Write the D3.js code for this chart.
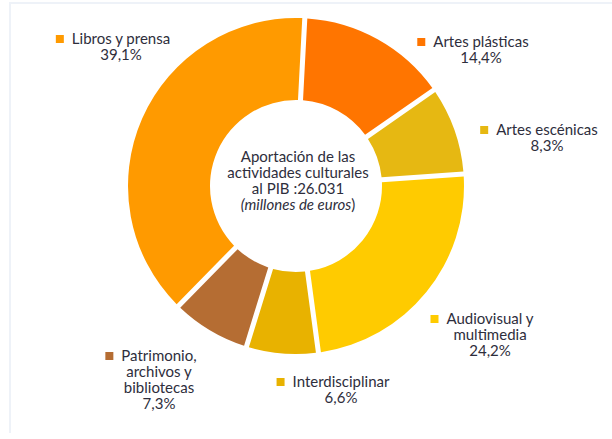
<!DOCTYPE html>
<html>
<head>
  <meta charset="UTF-8">
  <style>
    body { margin: 0; background: #fff; }
    svg { display: block; }
    text { font-family: Lato, "Noto Sans", sans-serif; font-size: 15px; fill: #2e2e3c; }
  </style>
</head>
<body>
  <svg id="chart" width="612" height="439"></svg>
  <script src="https://d3js.org/d3.v7.min.js"></script>
  <script>
    // data, clockwise from the top
    var categories = ["Artes plásticas", "Artes escénicas", "Audiovisual y multimedia",
                      "Interdisciplinar", "Patrimonio, archivos y bibliotecas", "Libros y prensa"];
    var shares = [14.4, 8.3, 24.2, 6.6, 7.3, 39.1];
    var labelLines = [["Artes plásticas"], ["Artes escénicas"], ["Audiovisual y", "multimedia"],
                      ["Interdisciplinar"], ["Patrimonio,", "archivos y", "bibliotecas"], ["Libros y prensa"]];
    var centerLines = ["Aportación de las", "actividades culturales", "al PIB :26.031"];
    var unitLine = "millones de euros";

    var colors = ["#ff7500", "#e6b812", "#ffcb00", "#e8b200", "#b56d33", "#ff9a00"];

    // label anchors (centre x, first baseline)
    var labelPos = [[481, 47], [547, 135], [490, 324], [341, 387], [159, 361], [121, 44]];

    var es = d3.formatLocale({decimal: ",", thousands: ".", grouping: [3], currency: ["", "€"]});
    var pct = function(v) { return es.format(".1f")(v) + "%"; };

    var svg = d3.select("#chart");

    // thin frame
    svg.append("line").attr("x1", 9).attr("y1", 3).attr("x2", 612).attr("y2", 3)
      .attr("stroke", "#eef2f8").attr("stroke-width", 2);
    svg.append("line").attr("x1", 10).attr("y1", 3).attr("x2", 10).attr("y2", 433)
      .attr("stroke", "#eef2f8").attr("stroke-width", 2);

    var cx = 296, cy = 186, R = 168, r = 86;

    var pie = d3.pie().sort(null)
      .startAngle(3 * Math.PI / 180)
      .endAngle(3 * Math.PI / 180 + 2 * Math.PI)
      .padAngle(0.03);

    var arc = d3.arc().innerRadius(r).outerRadius(R).padRadius(R);

    var g = svg.append("g").attr("transform", "translate(" + cx + "," + cy + ")");

    g.selectAll("path")
      .data(pie(shares))
      .enter().append("path")
      .attr("d", arc)
      .attr("fill", function(d, i) { return colors[i]; });

    // centre text
    var ct = svg.append("g");
    centerLines.forEach(function(s, i) {
      ct.append("text").attr("x", 298).attr("y", 162 + i * 16)
        .attr("text-anchor", "middle").text(s);
    });
    var u = ct.append("text").attr("x", 298).attr("y", 210).attr("text-anchor", "middle");
    u.append("tspan").attr("font-style", "italic").text("(" + unitLine);
    u.append("tspan").text(")");

    // labels
    var lab = svg.selectAll("g.lab")
      .data(categories)
      .enter().append("g").attr("class", "lab");

    lab.each(function(c, i) {
      var gg = d3.select(this);
      var p = labelPos[i];
      var lines = labelLines[i].concat([pct(shares[i])]);
      var first;
      lines.forEach(function(s, k) {
        var t = gg.append("text").attr("x", p[0]).attr("y", p[1] + k * 16)
          .attr("text-anchor", "middle").text(s);
        if (k === 0) first = t;
      });
      var w = first.node().getComputedTextLength();
      gg.append("rect")
        .attr("x", p[0] - w / 2 - 16).attr("y", p[1] - 9)
        .attr("width", 8).attr("height", 8)
        .attr("fill", colors[i]);
    });
  </script>
</body>
</html>
